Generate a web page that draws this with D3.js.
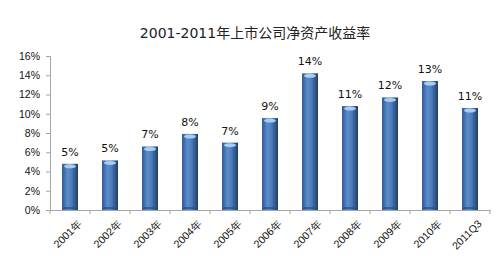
<!DOCTYPE html>
<html lang="zh">
<head>
  <meta charset="utf-8">
  <title>2001-2011年上市公司净资产收益率</title>
  <script src="https://cdn.jsdelivr.net/npm/d3@7"></script>
  <style>
    body { margin: 0; background: #fff; }
    svg { display: block; font-family: "DejaVu Sans", "Noto Sans CJK SC", sans-serif; }
    .title { font: 14px "DejaVu Sans", "Noto Sans CJK SC", sans-serif; fill: #222; }
    .axis text { font-size: 10.5px; fill: #111; }
    .axis path, .axis line { stroke: #a6a6a6; }
    .val { font-size: 11px; fill: #111; }
  </style>
</head>
<body>
<div id="chart"></div>
<script>
  // 数据
  const years = ["2001年", "2002年", "2003年", "2004年", "2005年", "2006年",
                 "2007年", "2008年", "2009年", "2010年", "2011Q3"];
  const roe = [4.8, 5.15, 6.6, 7.9, 7.0, 9.55, 14.2, 10.8, 11.7, 13.4, 10.6];
  const labels = ["5%", "5%", "7%", "8%", "7%", "9%", "14%", "11%", "12%", "13%", "11%"];
  const yTicks = [0, 2, 4, 6, 8, 10, 12, 14, 16];

  const W = 500, H = 268;
  const m = { left: 50, right: 10, top: 56, bottom: 58 };

  const svg = d3.select("#chart").append("svg")
    .attr("width", W).attr("height", H);

  const x = d3.scaleBand().domain(years)
    .range([m.left, W - m.right]).paddingInner(0.6).paddingOuter(0.3);
  const y = d3.scaleLinear().domain([0, 16]).range([H - m.bottom, m.top]);

  // 圆柱渐变
  const defs = svg.append("defs");
  const grad = defs.append("linearGradient").attr("id", "barGrad")
    .attr("x1", "0%").attr("x2", "100%").attr("y1", "0%").attr("y2", "0%");
  grad.append("stop").attr("offset", "0%").attr("stop-color", "#2f5a93");
  grad.append("stop").attr("offset", "35%").attr("stop-color", "#5a8ccd");
  grad.append("stop").attr("offset", "55%").attr("stop-color", "#4f80c0");
  grad.append("stop").attr("offset", "100%").attr("stop-color", "#1f3f6c");

  svg.append("text").attr("class", "title")
    .attr("x", 255).attr("y", 38).attr("text-anchor", "middle")
    .text("2001-2011年上市公司净资产收益率");

  // y轴
  svg.append("g").attr("class", "axis")
    .attr("transform", `translate(${m.left},0)`)
    .call(d3.axisLeft(y).tickValues(yTicks).tickFormat(d => d + "%").tickSize(4).tickPadding(6));

  // x轴（刻度在类别之间）
  const xAxis = svg.append("g").attr("class", "axis")
    .attr("transform", `translate(0,${y(0)})`)
    .call(d3.axisBottom(x).tickSize(0).tickSizeOuter(0));
  xAxis.selectAll(".tick text")
    .attr("text-anchor", "end")
    .attr("transform", "translate(5,7) rotate(-45)")
    .attr("dy", "0.7em");
  xAxis.selectAll(".sep")
    .data(d3.range(years.length + 1))
    .enter().append("line")
    .attr("x1", i => m.left + i * (W - m.left - m.right) / years.length)
    .attr("x2", i => m.left + i * (W - m.left - m.right) / years.length)
    .attr("y1", 0).attr("y2", 4)
    .attr("stroke", "#a6a6a6");

  // 柱子
  const bars = svg.append("g").selectAll("g")
    .data(years.map((d, i) => ({ year: d, v: roe[i], label: labels[i] })))
    .enter().append("g");

  bars.append("rect")
    .attr("x", d => x(d.year))
    .attr("y", d => y(d.v))
    .attr("width", x.bandwidth())
    .attr("height", d => y(0) - y(d.v))
    .attr("fill", "url(#barGrad)");

  bars.append("ellipse")
    .attr("cx", d => x(d.year) + x.bandwidth() / 2)
    .attr("cy", d => y(d.v) + 2.5)
    .attr("rx", x.bandwidth() / 2 - 2)
    .attr("ry", 2)
    .attr("fill", "#a9cdf2");

  bars.append("line")
    .attr("x1", d => x(d.year) + 1)
    .attr("x2", d => x(d.year) + x.bandwidth() - 1)
    .attr("y1", y(0) - 2).attr("y2", y(0) - 2)
    .attr("stroke", "#2c5286").attr("stroke-width", 1.5);

  bars.append("text").attr("class", "val")
    .attr("x", d => x(d.year) + x.bandwidth() / 2)
    .attr("y", d => y(d.v) - 8)
    .attr("text-anchor", "middle")
    .text(d => d.label);
</script>
</body>
</html>
